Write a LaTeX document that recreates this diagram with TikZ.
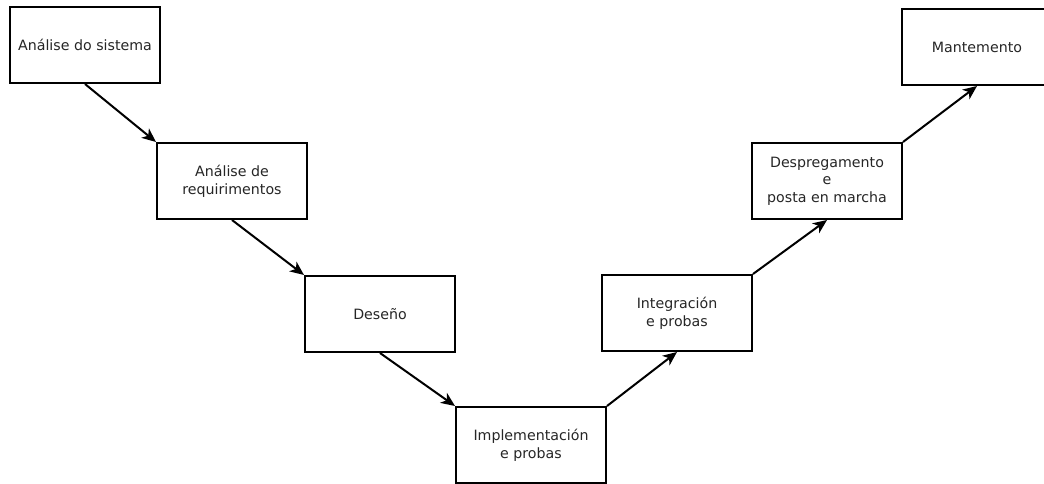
\documentclass[tikz,border=0pt]{standalone}
\usepackage{fontspec}
\setmainfont{DejaVu Sans}
\usetikzlibrary{arrows.meta}
\begin{document}
\begin{tikzpicture}[x=1pt,y=-1pt,
  phase/.style={draw=black, line width=2pt, fill=white,
    minimum width=150pt, minimum height=76pt, inner sep=2pt,
    align=center, text=black!85,
    font=\fontsize{14.2}{17.6}\selectfont},
  flow/.style={line width=2pt,
    -{Stealth[length=14pt,width=12pt,inset=4pt]}}]
  \useasboundingbox (0,0) rectangle (1044,484);
  \clip (0,0) rectangle (1044,484);
  \fill[white] (0,0) rectangle (1044,484);

  % descending branch
  \node[phase] (sis) at (85,45)   {Análise do sistema};
  \node[phase] (req) at (232,181) {Análise de\\requirimentos};
  \node[phase] (des) at (380,314) {Deseño};
  \node[phase] (imp) at (531,445) {Implementación\\e probas};
  % ascending branch
  \node[phase] (int) at (677,313) {Integración\\e probas};
  \node[phase] (dep) at (827,181) {Despregamento\\e\\posta en marcha};
  \node[phase] (man) at (977,47)  {Mantemento};

  \draw[flow] (sis.south) -- (req.north west);
  \draw[flow] (req.south) -- (des.north west);
  \draw[flow] (des.south) -- (imp.north west);
  \draw[flow] (imp.north east) -- (int.south);
  \draw[flow] (int.north east) -- (dep.south);
  \draw[flow] (dep.north east) -- (man.south);
\end{tikzpicture}
\end{document}
